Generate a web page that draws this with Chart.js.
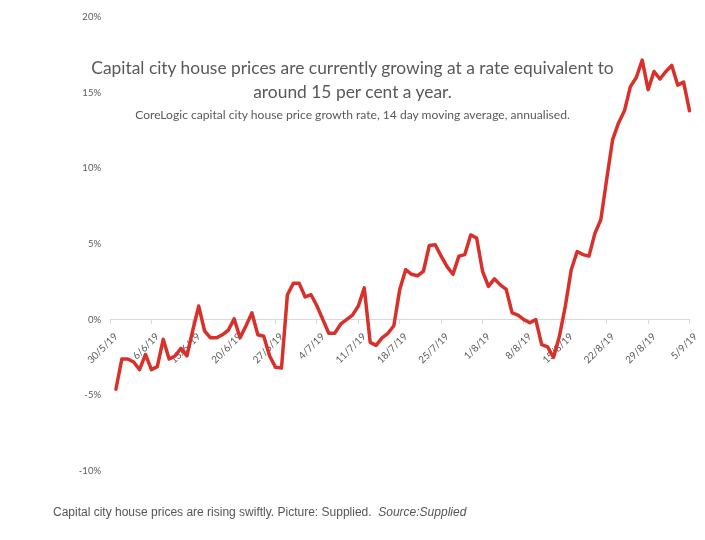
<!DOCTYPE html>
<html><head><meta charset="utf-8">
<script src="https://cdn.jsdelivr.net/npm/chart.js@4/dist/chart.umd.min.js"></script>
<style>
html,body{margin:0;padding:0;background:#fff;}
#wrap{position:relative;width:705px;height:540px;overflow:hidden;}
#c{position:absolute;left:0;top:0;}
.t{position:absolute;left:0;width:705px;text-align:center;color:#595959;font-family:Lato,"Open Sans",sans-serif;white-space:nowrap;}
#title{top:56px;font-size:17.4px;line-height:24px;}
#sub{top:108px;font-size:12.1px;line-height:14px;}
#cap{position:absolute;left:53px;top:505px;font-family:"Liberation Sans",Arial,sans-serif;font-size:12px;line-height:14px;color:#555;white-space:nowrap;}
</style></head><body>
<div id="wrap">
<canvas id="c" width="705" height="540"></canvas>
<div class="t" id="title">Capital city house prices are currently growing at a rate equivalent to<br>around 15 per cent a year.</div>
<div class="t" id="sub">CoreLogic capital city house price growth rate, 14 day moving average, annualised.</div>
<div id="cap">Capital city house prices are rising swiftly. Picture: Supplied.&nbsp; <i>Source:Supplied</i></div>
</div>
<script>
const days = ['30/5/19','31/5/19',
'1/6/19','2/6/19','3/6/19','4/6/19','5/6/19','6/6/19','7/6/19','8/6/19','9/6/19','10/6/19',
'11/6/19','12/6/19','13/6/19','14/6/19','15/6/19','16/6/19','17/6/19','18/6/19','19/6/19','20/6/19',
'21/6/19','22/6/19','23/6/19','24/6/19','25/6/19','26/6/19','27/6/19','28/6/19','29/6/19','30/6/19',
'1/7/19','2/7/19','3/7/19','4/7/19','5/7/19','6/7/19','7/7/19','8/7/19','9/7/19','10/7/19',
'11/7/19','12/7/19','13/7/19','14/7/19','15/7/19','16/7/19','17/7/19','18/7/19','19/7/19','20/7/19',
'21/7/19','22/7/19','23/7/19','24/7/19','25/7/19','26/7/19','27/7/19','28/7/19','29/7/19','30/7/19','31/7/19',
'1/8/19','2/8/19','3/8/19','4/8/19','5/8/19','6/8/19','7/8/19','8/8/19','9/8/19','10/8/19',
'11/8/19','12/8/19','13/8/19','14/8/19','15/8/19','16/8/19','17/8/19','18/8/19','19/8/19','20/8/19',
'21/8/19','22/8/19','23/8/19','24/8/19','25/8/19','26/8/19','27/8/19','28/8/19','29/8/19','30/8/19','31/8/19',
'1/9/19','2/9/19','3/9/19','4/9/19','5/9/19'];

const tickLabels = ['30/5/19','6/6/19','13/6/19','20/6/19','27/6/19','4/7/19','11/7/19','18/7/19',
'25/7/19','1/8/19','8/8/19','15/8/19','22/8/19','29/8/19','5/9/19'];

const growth = [null,
-4.6,-2.6,-2.6,-2.8,-3.3,-2.3,-3.3,-3.1,-1.3,-2.6,
-2.4,-1.9,-2.4,-0.7,0.9,-0.75,-1.2,-1.2,-1.0,-0.7,
0.05,-1.2,-0.4,0.45,-1.0,-1.1,-2.4,-3.15,-3.2,1.65,
2.4,2.4,1.5,1.65,0.9,0.0,-0.9,-0.9,-0.3,0.0,
0.3,0.9,2.1,-1.5,-1.7,-1.2,-0.9,-0.4,2.0,3.3,
3.0,2.9,3.2,4.9,4.95,4.2,3.5,3.0,4.2,4.3,
5.6,5.4,3.2,2.2,2.7,2.3,2.0,0.45,0.3,0.0,
-0.2,0.0,-1.65,-1.8,-2.5,-1.1,0.9,3.3,4.5,4.3,
4.2,5.7,6.6,9.3,11.9,13.0,13.8,15.4,16.0,17.15,
15.2,16.4,15.9,16.4,16.8,15.5,15.7,13.8];

const yTicks = {min:-10, max:20, step:5};

new Chart(document.getElementById('c'), {
  type: 'line',
  data: {
    labels: days,
    datasets: [{
      data: growth,
      borderColor: '#d8302a',
      borderWidth: 3.5,
      pointRadius: 0,
      tension: 0,
      fill: false,
      borderJoinStyle: 'round',
      borderCapStyle: 'round'
    }]
  },
  options: {
    responsive: false,
    animation: false,
    layout: {padding: {left: 0, right: 14, top: 17, bottom: 69}},
    plugins: {legend: {display: false}, tooltip: {enabled: false}},
    scales: {
      x: {
        type: 'category',
        position: {y: 0},
        grid: {
          display: true, drawOnChartArea: false, drawTicks: true, tickLength: 4,
          color: c => (tickLabels.includes(days[c.index]) ? '#d9d9d9' : 'rgba(0,0,0,0)')
        },
        border: {display: true, color: '#d9d9d9', width: 1},
        ticks: {
          autoSkip: false, maxRotation: 45, minRotation: 45, padding: 7, labelOffset: 6,
          color: '#595959', font: {family: 'Lato', size: 10},
          callback: (v, i) => (tickLabels.includes(days[i]) ? days[i] : '')
        }
      },
      y: {
        min: yTicks.min, max: yTicks.max,
        grid: {display: false},
        border: {display: false},
        ticks: {stepSize: yTicks.step, padding: 1, color: '#595959',
          font: {family: 'Lato', size: 9.5}, callback: v => v + '%'},
        afterFit: s => { s.width = 110; }
      }
    }
  }
});
</script>
</body></html>
